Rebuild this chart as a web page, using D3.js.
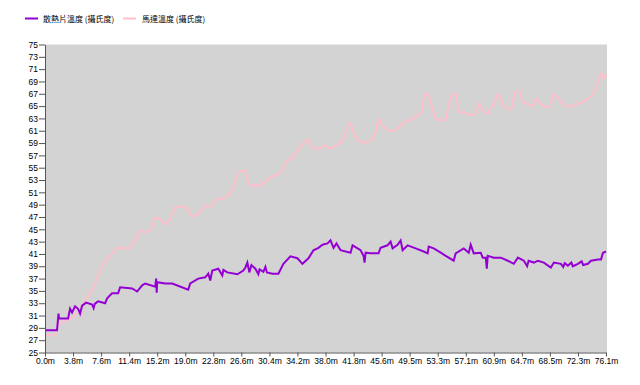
<!DOCTYPE html>
<html><head><meta charset="utf-8">
<script src="https://cdn.jsdelivr.net/npm/d3@7"></script>
<style>
body{margin:0;background:#fff;}
svg{display:block;}
.ax text{font-family:"Liberation Sans",Arial,sans-serif;font-size:8.5px;fill:#000;}
.leg{font-family:"Noto Sans CJK TC","Noto Sans",sans-serif;font-size:8px;fill:#000;}
</style></head>
<body><svg id="c" width="640" height="385"></svg>
<script>
const seriesNames = ["散熱片溫度 (攝氏度)", "馬達溫度 (攝氏度)"];
const seriesColors = ["#9400D3", "#FFC0CB"];
const xTickLabels = ["0.0m","3.8m","7.6m","11.4m","15.2m","19.0m","22.8m","26.6m","30.4m","34.2m","38.0m","41.8m","45.6m","49.5m","53.3m","57.1m","60.9m","64.7m","68.5m","72.3m","76.1m"];
const yTicks = [25,27,29,31,33,35,37,39,41,43,45,47,49,51,53,55,57,59,61,63,65,67,69,71,73,75];

// heatsink temperature [distance m, °C]
const heatsink = [
[0,28.6],[1.63,28.6],[1.77,30.5],[1.83,31.3],[1.90,30.5],[3.13,30.5],[3.40,32.1],[3.67,31.5],[4.08,32.5],[4.48,32.1],[4.76,31.3],[5.03,32.6],[5.57,33.1],[6.39,32.8],[6.60,32.2],[6.75,32.9],[7.20,33.3],[8.15,33.0],[8.43,33.8],[9.10,34.6],[9.92,34.6],[10.19,35.6],[11.82,35.4],[12.50,34.9],[13.18,35.9],[13.59,36.2],[14.95,35.7],[15.08,37.0],[15.15,34.7],[15.22,36.4],[16.31,36.2],[17.26,36.2],[19.43,35.2],[19.70,36.2],[20.79,37.0],[21.74,37.2],[22.15,37.8],[22.42,36.7],[22.69,38.3],[23.51,38.6],[24.05,37.5],[24.20,38.4],[24.73,38.0],[26.09,37.7],[26.91,38.3],[27.18,38.8],[27.45,39.6],[27.72,38.0],[28.00,39.2],[28.54,38.6],[28.94,37.7],[29.10,38.5],[29.62,38.1],[29.90,38.9],[30.10,38.0],[30.85,37.8],[31.66,37.8],[32.34,39.4],[33.29,40.6],[34.24,40.3],[34.92,39.4],[35.74,40.3],[36.42,41.6],[37.10,42.0],[37.64,42.5],[38.32,42.7],[38.73,43.2],[39.14,42.0],[39.54,42.7],[40.09,41.6],[41.45,41.2],[41.72,42.4],[42.81,41.6],[43.21,40.7],[43.35,39.6],[43.49,41.2],[44.16,41.1],[45.25,41.1],[45.52,42.0],[46.47,42.4],[46.88,43.0],[47.15,41.9],[47.83,42.5],[48.24,43.2],[48.51,41.6],[49.19,42.4],[50.28,41.9],[51.37,41.4],[51.91,41.1],[52.05,42.2],[52.73,41.9],[53.68,41.2],[54.36,40.7],[55.44,39.9],[55.71,41.1],[56.80,41.9],[57.48,41.2],[57.75,42.5],[58.16,41.1],[59.11,41.2],[59.38,40.4],[59.79,40.4],[59.93,38.6],[60.06,40.7],[60.88,40.4],[61.83,40.4],[62.78,39.9],[63.60,39.4],[64.14,40.4],[64.96,39.9],[65.40,39.0],[65.60,39.9],[66.32,39.6],[66.86,39.9],[67.67,39.6],[68.62,38.8],[69.03,39.6],[69.98,39.4],[70.30,38.9],[70.50,39.5],[70.93,39.1],[71.40,39.6],[71.60,39.0],[72.29,39.4],[72.80,39.8],[73.00,39.2],[73.65,39.4],[74.06,39.9],[75.01,40.1],[75.42,40.1],[75.69,41.2],[76.1,41.4]
];
// motor temperature [distance m, °C]
const motor = [
[0,27.8],[1.36,27.8],[1.63,29.4],[3.40,30.5],[4.48,31.5],[5.44,33.4],[6.79,36.2],[7.88,39.4],[8.83,40.7],[9.92,42.0],[11.28,41.9],[12.23,43.2],[12.91,44.8],[13.59,44.5],[14.27,44.8],[14.95,46.9],[15.63,46.6],[16.31,45.8],[16.99,46.8],[17.67,48.5],[18.75,48.7],[19.43,48.2],[19.98,47.1],[20.79,47.4],[21.74,48.9],[22.42,48.7],[23.10,49.7],[24.46,50.2],[25.41,51.3],[26.23,54.2],[27.04,54.5],[27.86,52.1],[28.94,52.1],[30.58,53.4],[31.93,54.2],[32.61,55.8],[33.56,56.7],[34.65,58.4],[35.47,59.4],[35.74,59.6],[36.28,58.3],[37.10,58.1],[38.05,58.6],[38.73,58.1],[39.68,58.8],[40.36,59.4],[41.04,61.5],[41.45,62.2],[41.85,60.7],[42.53,59.3],[43.21,59.1],[44.16,59.4],[44.84,61.0],[45.25,63.0],[45.80,61.8],[46.20,61.5],[46.88,60.9],[47.83,61.4],[48.65,62.3],[49.60,62.8],[50.28,63.3],[50.96,63.8],[51.64,67.0],[51.91,67.0],[52.32,65.6],[53.00,63.0],[53.68,62.7],[54.36,62.8],[54.76,65.4],[55.31,66.9],[55.71,67.0],[56.12,64.0],[56.80,64.0],[57.48,63.6],[58.43,63.8],[58.84,65.4],[59.52,64.1],[60.06,63.8],[60.47,64.8],[60.88,65.1],[61.42,67.0],[62.10,65.4],[62.51,64.8],[63.19,64.4],[63.87,67.5],[64.28,67.5],[64.82,65.7],[65.50,65.3],[66.18,65.1],[66.59,66.2],[67.27,65.3],[68.22,64.8],[68.62,65.4],[69.03,66.9],[69.58,66.4],[70.25,65.4],[71.07,64.9],[72.29,65.4],[73.65,66.2],[74.47,67.2],[75.01,69.0],[75.42,70.3],[75.83,69.5],[76.1,70.3]
];

const svg = d3.select("#c");
const L = 45, R = 606, T = 44.5, B = 352.5;
const x = d3.scaleLinear().domain([0, 76.1]).range([L, R]);
const y = d3.scaleLinear().domain([25, 75]).range([B, T]);

svg.append("rect").attr("x", L).attr("y", T).attr("width", R - L + 1).attr("height", B - T).attr("fill", "#D3D3D3");

const line = d3.line().x(d => x(d[0])).y(d => y(d[1]));
const smooth = d3.line().x(d => x(d[0])).y(d => y(d[1])).curve(d3.curveMonotoneX);
svg.append("path").datum(motor).attr("d", smooth).attr("fill", "none").attr("stroke", seriesColors[1]).attr("stroke-width", 2).attr("stroke-linejoin", "round");
svg.append("path").datum(heatsink).attr("d", line).attr("fill", "none").attr("stroke", seriesColors[0]).attr("stroke-width", 2);

const xTickVals = xTickLabels.map((s, i) => i * 76.1 / 20);
const xa = svg.append("g").attr("class", "ax").attr("transform", `translate(0,${B})`)
  .call(d3.axisBottom(x).tickValues(xTickVals).tickFormat((d, i) => xTickLabels[i]).tickSize(4).tickSizeOuter(0));
const ya = svg.append("g").attr("class", "ax").attr("transform", `translate(${L},0)`)
  .call(d3.axisLeft(y).tickValues(yTicks).tickFormat(d => d).tickSize(6).tickSizeOuter(0));
svg.selectAll(".ax path, .ax line").attr("stroke", "#555");
xa.selectAll("text").attr("dy", "0.75em").attr("y", 5);
ya.selectAll("text").attr("x", -7);

// legend
const leg = svg.append("g");
[[25, 43], [123, 142]].forEach((p, i) => {
  leg.append("line").attr("x1", p[0]).attr("x2", p[0] + 13).attr("y1", 18.5).attr("y2", 18.5)
    .attr("stroke", seriesColors[i]).attr("stroke-width", 2);
  leg.append("text").attr("class", "leg").attr("x", p[1]).attr("y", 21.5).text(seriesNames[i]);
});
</script></body></html>
